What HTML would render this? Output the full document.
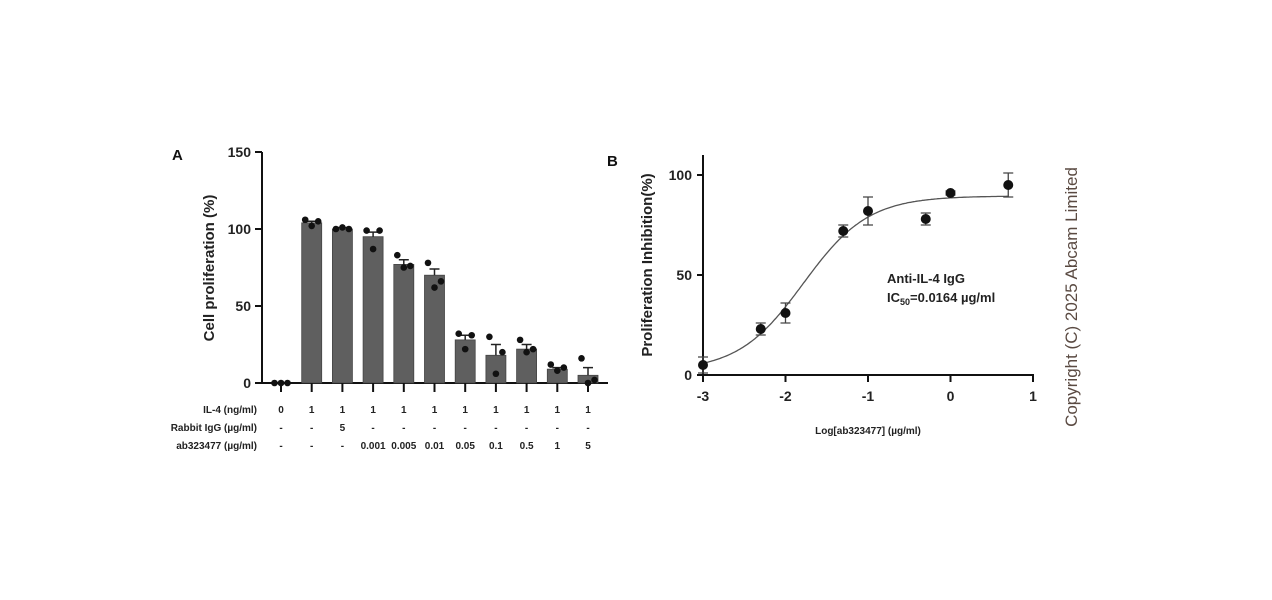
<!DOCTYPE html>
<html><head><meta charset="utf-8"><style>
html,body{margin:0;padding:0;background:#fff;}
svg{display:block;font-family:"Liberation Sans",sans-serif;}
</style></head><body>
<svg id="fig" width="1272" height="600" viewBox="0 0 1272 600"></svg>
<script>
// Panel A data
const aCategories = ["0","1","1","1","1","1","1","1","1","1","1"];
const aIL4 = ["0","1","1","1","1","1","1","1","1","1","1"];
const aRabbit = ["-","-","5","-","-","-","-","-","-","-","-"];
const aAb = ["-","-","-","0.001","0.005","0.01","0.05","0.1","0.5","1","5"];
const aMeans = [0,104,100,95,77,70,28,18,22,9,5];
const aErr = [0,1,1,3,3,4,3,7,3,1,5];
const aDots = [[0,0,0],[106,102,105],[100,101,100],[99,87,99],[83,75,76],[78,62,66],[32,22,31],[30,6,20],[28,20,22],[12,8,10],[16,0,2]];
const aTicks = [0,50,100,150];
// Panel B data
const bX = [-3,-2.3,-2,-1.3,-1,-0.3,0,0.7];
const bY = [5,23,31,72,82,78,91,95];
const bErr = [4,3,5,3,7,3,1,6];
const bXTicks = [-3,-2,-1,0,1];
const bYTicks = [0,50,100];
const fitBottom = 2, fitTop = 89.5, fitLogIC50 = -1.785, fitHill = 1.1;

const NS="http://www.w3.org/2000/svg";
const svg=document.getElementById('fig');
function mk(tag,attrs,parent){const e=document.createElementNS(NS,tag);for(const k in attrs)e.setAttribute(k,attrs[k]);(parent||svg).appendChild(e);return e;}
function txt(s,attrs,parent){const e=mk('text',attrs,parent);e.textContent=s;return e;}

// ---------- Panel A ----------
const gA=mk('g',{});


const ay=v=>383-v*(383-152)/150;
const ax=i=>281+i*30.7;
let t=txt('A',{x:172,y:160,'font-size':15,'font-weight':'bold',fill:'#111'},gA);

let yl=mk('line',{x1:262,y1:152,x2:262,y2:384,stroke:'#111','stroke-width':2},gA);

let xl=mk('line',{x1:262,y1:383,x2:608,y2:383,stroke:'#111','stroke-width':2},gA);

aTicks.forEach(v=>{
  const l=mk('line',{x1:255,y1:ay(v),x2:262,y2:ay(v),stroke:'#111','stroke-width':2},gA);
  
  const tt=txt(String(v),{x:251,y:ay(v)+5,'text-anchor':'end','font-size':14,'font-weight':'bold',fill:'#222'},gA);
  
});
const yt=txt('Cell proliferation (%)',{x:0,y:0,transform:'translate(214,268) rotate(-90)','text-anchor':'middle','font-size':15,'font-weight':'bold',fill:'#222'},gA);

aMeans.forEach((v,i)=>{
  const x=ax(i);
  if(v>0){const b=mk('rect',{x:x-10,y:ay(v),width:20,height:ay(0)-ay(v),fill:'#5f5f5f',stroke:'#444','stroke-width':0.8},gA);
  }
  if(aErr[i]>0){const e=mk('path',{d:`M${x} ${ay(v)} V${ay(v+aErr[i])} M${x-5} ${ay(v+aErr[i])} H${x+5}`,stroke:'#222','stroke-width':1.5,fill:'none'},gA);
  }
  aDots[i].forEach((d,j)=>{const c=mk('circle',{cx:x+(j-1)*6.5,cy:ay(d),r:3.3,fill:'#111'},gA);
  });
  const tk=mk('line',{x1:x,y1:383,x2:x,y2:392,stroke:'#111','stroke-width':2},gA);
  
  [[aIL4,413],[aRabbit,431],[aAb,449]].forEach(([arr,yy])=>{
    const s=txt(arr[i],{x:x,y:yy,'text-anchor':'middle','font-size':10,'font-weight':'bold',fill:'#222'},gA);
    
  });
});
[['IL-4 (ng/ml)',413],['Rabbit IgG (µg/ml)',431],['ab323477 (µg/ml)',449]].forEach(([s,yy])=>{
  const r=txt(s,{x:257,y:yy,'text-anchor':'end','font-size':10,'font-weight':'bold',fill:'#222'},gA);
  
});

// ---------- Panel B ----------
const gB=mk('g',{});


const bx=v=>703+(v+3)*82.5;
const by=v=>375-v*2;
t=txt('B',{x:607,y:166,'font-size':15,'font-weight':'bold',fill:'#111'},gB);

yl=mk('line',{x1:703,y1:155,x2:703,y2:376,stroke:'#111','stroke-width':2},gB);

xl=mk('line',{x1:702,y1:375,x2:1034,y2:375,stroke:'#111','stroke-width':2},gB);

bYTicks.forEach(v=>{
  const l=mk('line',{x1:697,y1:by(v),x2:703,y2:by(v),stroke:'#111','stroke-width':2},gB);
  
  const tt=txt(String(v),{x:692,y:by(v)+5,'text-anchor':'end','font-size':14,'font-weight':'bold',fill:'#222'},gB);
  
});
bXTicks.forEach(v=>{
  const l=mk('line',{x1:bx(v),y1:375,x2:bx(v),y2:382,stroke:'#111','stroke-width':2},gB);
  
  const tt=txt(String(v),{x:bx(v),y:401,'text-anchor':'middle','font-size':14,'font-weight':'bold',fill:'#222'},gB);
  
});
const byt=txt('Proliferation Inhibition(%)',{x:0,y:0,transform:'translate(652,265) rotate(-90)','text-anchor':'middle','font-size':15,'font-weight':'bold',fill:'#222'},gB);

const bxt=txt('Log[ab323477] (µg/ml)',{x:868,y:434,'text-anchor':'middle','font-size':10,'font-weight':'bold',fill:'#222'},gB);

let d='';
for(let k=0;k<=200;k++){const lx=-3+k*3.7/200;const yv=fitBottom+(fitTop-fitBottom)/(1+Math.pow(10,fitHill*(fitLogIC50-lx)));d+=(k?'L':'M')+bx(lx).toFixed(1)+' '+by(yv).toFixed(1);}
const fit=mk('path',{d:d,stroke:'#555','stroke-width':1.3,fill:'none'},gB);

bX.forEach((xv,i)=>{
  const x=bx(xv),y1=by(bY[i]+bErr[i]),y2=by(bY[i]-bErr[i]);
  const e=mk('path',{d:`M${x} ${y1} V${y2} M${x-5} ${y1} H${x+5} M${x-5} ${y2} H${x+5}`,stroke:'#444','stroke-width':1.3,fill:'none'},gB);
  
  const c=mk('circle',{cx:x,cy:by(bY[i]),r:5,fill:'#111'},gB);
  
});
const a1=txt('Anti-IL-4 IgG',{x:887,y:283,'font-size':13,'font-weight':'bold',fill:'#222'},gB);

const a2=mk('text',{x:887,y:302,'font-size':13,'font-weight':'bold',fill:'#222'},gB);
a2.innerHTML='IC<tspan font-size="9" dy="3">50</tspan><tspan dy="-3">=0.0164 µg/ml</tspan>';


const cp=txt('Copyright (C) 2025 Abcam Limited',{x:0,y:0,transform:'translate(1077,297) rotate(-90)','text-anchor':'middle','font-size':17,fill:'#5a4a42'});

</script>
</body></html>
